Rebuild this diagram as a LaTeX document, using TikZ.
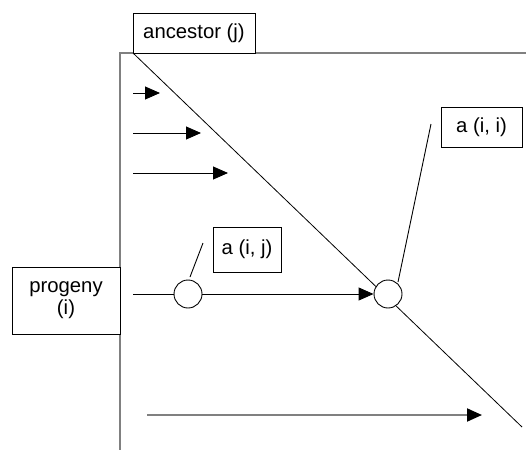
\documentclass[tikz,border=0pt]{standalone}
\usepackage{fontspec}
\setmainfont{Liberation Sans}
\usetikzlibrary{arrows.meta}
\begin{document}
\begin{tikzpicture}[x=1pt,y=-1pt,
  lbl/.style={draw=black,line width=0.9pt,fill=white,inner sep=0pt,align=center,
    font=\fontsize{20.3}{22}\selectfont},
  axis/.style={draw=gray,line width=2pt},
  thin/.style={draw=black,line width=0.9pt},
  arr/.style={thin,-{Triangle[length=15pt,width=13pt]}},
  knot/.style={circle,draw=black,line width=0.9pt,fill=white,minimum size=28pt,inner sep=0pt}]
\useasboundingbox (0,0) rectangle (526,450);
% axes
\coordinate (o) at (120,53);
\coordinate (topend) at (526,53);
\coordinate (botend) at (120,450);
\coordinate (d0) at (133,53);
\coordinate (d1) at (522,427);
\draw[axis] (topend) -- (o) -- (botend);
\draw[draw=black,line width=0.8pt] (d0) -- (d1);
% label boxes
\node[lbl,minimum width=122pt,minimum height=40pt] (anc) at (194,33) {ancestor (j)};
\node[lbl,minimum width=108pt,minimum height=67pt] (prog) at (66,300.5) {progeny\\(i)};
\node[lbl,minimum width=68pt,minimum height=45pt] (aij) at (247,249.5) {a (i, j)};
\node[lbl,minimum width=81pt,minimum height=40pt] (aii) at (481.5,127) {a (i, i)};
% short arrows
\coordinate (s1) at (133,93);  \coordinate (e1) at (160,93);
\coordinate (s2) at (133,133); \coordinate (e2) at (201,133);
\coordinate (s3) at (133,173); \coordinate (e3) at (228,173);
\draw[arr] (s1) -- (e1);
\draw[arr] (s2) -- (e2);
\draw[arr] (s3) -- (e3);
% knots
\node[knot] (c1) at (188,294) {};
\node[knot] (c2) at (388,294) {};
\coordinate (s4) at (133,294);
\draw[thin] (s4) -- (c1);
\draw[arr] (c1) -- (c2);
% leaders
\coordinate (l1a) at (190,277); \coordinate (l1b) at (203,243);
\coordinate (l2a) at (398,282); \coordinate (l2b) at (431,124);
\draw[thin] (l1a) -- (l1b);
\draw[thin] (l2a) -- (l2b);
% bottom arrow
\coordinate (s5) at (147,415); \coordinate (e5) at (482,415);
\draw[draw=gray,line width=2pt,-{Triangle[length=15pt,width=13pt,fill=black,color=black]}] (s5) -- (e5);
\end{tikzpicture}
\end{document}
